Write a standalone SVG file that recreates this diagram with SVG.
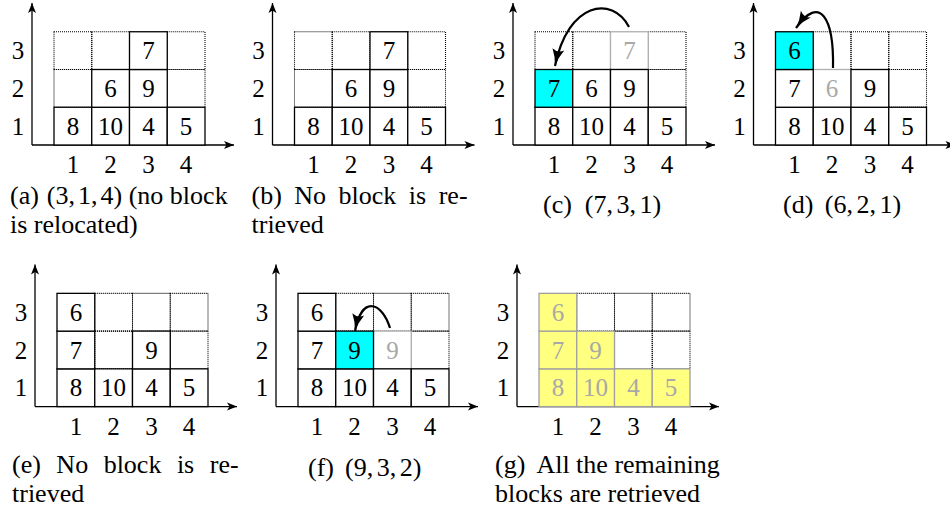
<svg xmlns="http://www.w3.org/2000/svg" width="950" height="517" viewBox="0 0 950 517" font-family="'Liberation Serif','DejaVu Serif','Times New Roman',serif">
<defs>
<style>
text{font-family:'Liberation Serif','DejaVu Serif','Times New Roman',serif;font-size:25px}
.e{fill:none;stroke:#000;stroke-width:1.1;stroke-dasharray:1 1}
.b{fill:#fff;stroke:#000;stroke-width:1.3}
.gh{fill:#fff;stroke:#b0b0b0;stroke-width:1.3}
.cy{fill:#00ffff;stroke:#000;stroke-width:1.3}
.ye{fill:#ffff80;stroke:#a0a0a0;stroke-width:1.3}
.t{text-anchor:middle;fill:#000}
.tg{text-anchor:middle;fill:#a8a8a8}
.lab{text-anchor:middle;fill:#000}
.cap{fill:#000;font-size:26px}
.ax{fill:none;stroke:#000;stroke-width:1.3;marker-end:url(#axh)}
.arc{fill:none;stroke:#000;stroke-width:2.2;marker-end:url(#arh)}
</style>
<marker id="axh" markerUnits="userSpaceOnUse" markerWidth="12" markerHeight="10" refX="10" refY="4" orient="auto" overflow="visible">
<path d="M0,0 L10,4 L0,8 L2.5,4 Z" fill="#000"/>
</marker>
<marker id="arh" markerUnits="userSpaceOnUse" markerWidth="20" markerHeight="14" refX="17" refY="6" orient="auto" overflow="visible">
<path d="M0,0 Q8,4.5 17,6 Q8,7.5 0,12 Q4,6 0,0 Z" fill="#000"/>
</marker>
<g id="axes">
<path class="ax" d="M0,0 V-142"/>
<path class="ax" d="M0,0 H202"/>
<text class="lab" x="-14" y="-10.4">1</text>
<text class="lab" x="-14" y="-48.1">2</text>
<text class="lab" x="-14" y="-85.9">3</text>
<text class="lab" x="40.9" y="28">1</text>
<text class="lab" x="78.6" y="28">2</text>
<text class="lab" x="116.4" y="28">3</text>
<text class="lab" x="154.1" y="28">4</text>
</g>
</defs>

<!-- Panel (a) -->
<g id="panel-a" transform="translate(32,145)">
<use href="#axes"/>
<g id="a-empty">
<rect class="e" x="22" y="-75.5" width="37.75" height="37.75"/>
<rect class="e" x="135.25" y="-75.5" width="37.75" height="37.75"/>
<rect class="e" x="22" y="-113.25" width="37.75" height="37.75"/>
<rect class="e" x="59.75" y="-113.25" width="37.75" height="37.75"/>
<rect class="e" x="135.25" y="-113.25" width="37.75" height="37.75"/>
</g>
<g id="a-8"><rect class="b" x="22" y="-37.75" width="37.75" height="37.75"/><text class="t" x="40.9" y="-10.4">8</text></g>
<g id="a-10"><rect class="b" x="59.75" y="-37.75" width="37.75" height="37.75"/><text class="t" x="78.6" y="-10.4">10</text></g>
<g id="a-4"><rect class="b" x="97.5" y="-37.75" width="37.75" height="37.75"/><text class="t" x="116.4" y="-10.4">4</text></g>
<g id="a-5"><rect class="b" x="135.25" y="-37.75" width="37.75" height="37.75"/><text class="t" x="154.1" y="-10.4">5</text></g>
<g id="a-6"><rect class="b" x="59.75" y="-75.5" width="37.75" height="37.75"/><text class="t" x="78.6" y="-48.1">6</text></g>
<g id="a-9"><rect class="b" x="97.5" y="-75.5" width="37.75" height="37.75"/><text class="t" x="116.4" y="-48.1">9</text></g>
<g id="a-7"><rect class="b" x="97.5" y="-113.25" width="37.75" height="37.75"/><text class="t" x="116.4" y="-85.9">7</text></g>
<text class="cap" x="-22" y="59">(a) <tspan dx="1.5">(3,</tspan><tspan dx="3">1,</tspan><tspan dx="3">4)</tspan> (no block</text>
<text class="cap" x="-22" y="88">is relocated)</text>
</g>

<!-- Panel (b) -->
<g id="panel-b" transform="translate(272.5,145)">
<use href="#axes"/>
<g id="b-empty">
<rect class="e" x="22" y="-75.5" width="37.75" height="37.75"/>
<rect class="e" x="135.25" y="-75.5" width="37.75" height="37.75"/>
<rect class="e" x="22" y="-113.25" width="37.75" height="37.75"/>
<rect class="e" x="59.75" y="-113.25" width="37.75" height="37.75"/>
<rect class="e" x="135.25" y="-113.25" width="37.75" height="37.75"/>
</g>
<g id="b-8"><rect class="b" x="22" y="-37.75" width="37.75" height="37.75"/><text class="t" x="40.9" y="-10.4">8</text></g>
<g id="b-10"><rect class="b" x="59.75" y="-37.75" width="37.75" height="37.75"/><text class="t" x="78.6" y="-10.4">10</text></g>
<g id="b-4"><rect class="b" x="97.5" y="-37.75" width="37.75" height="37.75"/><text class="t" x="116.4" y="-10.4">4</text></g>
<g id="b-5"><rect class="b" x="135.25" y="-37.75" width="37.75" height="37.75"/><text class="t" x="154.1" y="-10.4">5</text></g>
<g id="b-6"><rect class="b" x="59.75" y="-75.5" width="37.75" height="37.75"/><text class="t" x="78.6" y="-48.1">6</text></g>
<g id="b-9"><rect class="b" x="97.5" y="-75.5" width="37.75" height="37.75"/><text class="t" x="116.4" y="-48.1">9</text></g>
<g id="b-7"><rect class="b" x="97.5" y="-113.25" width="37.75" height="37.75"/><text class="t" x="116.4" y="-85.9">7</text></g>
<text class="cap" x="-21" y="59" word-spacing="6">(b) No block is re-</text>
<text class="cap" x="-21" y="88">trieved</text>
</g>

<!-- Panel (c) -->
<g id="panel-c" transform="translate(513,145)">
<use href="#axes"/>
<g id="c-empty">
<rect class="e" x="135.25" y="-75.5" width="37.75" height="37.75"/>
<rect class="e" x="22" y="-113.25" width="37.75" height="37.75"/>
<rect class="e" x="59.75" y="-113.25" width="37.75" height="37.75"/>
<rect class="e" x="135.25" y="-113.25" width="37.75" height="37.75"/>
</g>
<g id="c-7old"><rect class="gh" x="97.5" y="-113.25" width="37.75" height="37.75"/><text class="tg" x="116.4" y="-85.9">7</text></g>
<g id="c-8"><rect class="b" x="22" y="-37.75" width="37.75" height="37.75"/><text class="t" x="40.9" y="-10.4">8</text></g>
<g id="c-10"><rect class="b" x="59.75" y="-37.75" width="37.75" height="37.75"/><text class="t" x="78.6" y="-10.4">10</text></g>
<g id="c-4"><rect class="b" x="97.5" y="-37.75" width="37.75" height="37.75"/><text class="t" x="116.4" y="-10.4">4</text></g>
<g id="c-5"><rect class="b" x="135.25" y="-37.75" width="37.75" height="37.75"/><text class="t" x="154.1" y="-10.4">5</text></g>
<g id="c-7"><rect class="cy" x="22" y="-75.5" width="37.75" height="37.75"/><text class="t" x="40.9" y="-48.1">7</text></g>
<g id="c-6"><rect class="b" x="59.75" y="-75.5" width="37.75" height="37.75"/><text class="t" x="78.6" y="-48.1">6</text></g>
<g id="c-9"><rect class="b" x="97.5" y="-75.5" width="37.75" height="37.75"/><text class="t" x="116.4" y="-48.1">9</text></g>
<text class="cap" x="30" y="68">(c) <tspan dx="6.5">(7,</tspan><tspan dx="3.5">3,</tspan><tspan dx="3.5">1)</tspan></text>
</g>

<!-- Panel (d) -->
<g id="panel-d" transform="translate(753.5,145)">
<use href="#axes"/>
<g id="d-empty">
<rect class="e" x="135.25" y="-75.5" width="37.75" height="37.75"/>
<rect class="e" x="59.75" y="-113.25" width="37.75" height="37.75"/>
<rect class="e" x="97.5" y="-113.25" width="37.75" height="37.75"/>
<rect class="e" x="135.25" y="-113.25" width="37.75" height="37.75"/>
</g>
<g id="d-6old"><rect class="gh" x="59.75" y="-75.5" width="37.75" height="37.75"/><text class="tg" x="78.6" y="-48.1">6</text></g>
<g id="d-8"><rect class="b" x="22" y="-37.75" width="37.75" height="37.75"/><text class="t" x="40.9" y="-10.4">8</text></g>
<g id="d-10"><rect class="b" x="59.75" y="-37.75" width="37.75" height="37.75"/><text class="t" x="78.6" y="-10.4">10</text></g>
<g id="d-4"><rect class="b" x="97.5" y="-37.75" width="37.75" height="37.75"/><text class="t" x="116.4" y="-10.4">4</text></g>
<g id="d-5"><rect class="b" x="135.25" y="-37.75" width="37.75" height="37.75"/><text class="t" x="154.1" y="-10.4">5</text></g>
<g id="d-7"><rect class="b" x="22" y="-75.5" width="37.75" height="37.75"/><text class="t" x="40.9" y="-48.1">7</text></g>
<g id="d-9"><rect class="b" x="97.5" y="-75.5" width="37.75" height="37.75"/><text class="t" x="116.4" y="-48.1">9</text></g>
<g id="d-6"><rect class="cy" x="22" y="-113.25" width="37.75" height="37.75"/><text class="t" x="40.9" y="-85.9">6</text></g>
<text class="cap" x="29.5" y="68">(d) <tspan dx="5">(6,</tspan><tspan dx="3.5">2,</tspan><tspan dx="3.5">1)</tspan></text>
</g>

<!-- Panel (e) -->
<g id="panel-e" transform="translate(35,406.6)">
<use href="#axes"/>
<g id="e-empty">
<rect class="e" x="59.75" y="-75.5" width="37.75" height="37.75"/>
<rect class="e" x="135.25" y="-75.5" width="37.75" height="37.75"/>
<rect class="e" x="59.75" y="-113.25" width="37.75" height="37.75"/>
<rect class="e" x="97.5" y="-113.25" width="37.75" height="37.75"/>
<rect class="e" x="135.25" y="-113.25" width="37.75" height="37.75"/>
</g>
<g id="e-8"><rect class="b" x="22" y="-37.75" width="37.75" height="37.75"/><text class="t" x="40.9" y="-10.4">8</text></g>
<g id="e-10"><rect class="b" x="59.75" y="-37.75" width="37.75" height="37.75"/><text class="t" x="78.6" y="-10.4">10</text></g>
<g id="e-4"><rect class="b" x="97.5" y="-37.75" width="37.75" height="37.75"/><text class="t" x="116.4" y="-10.4">4</text></g>
<g id="e-5"><rect class="b" x="135.25" y="-37.75" width="37.75" height="37.75"/><text class="t" x="154.1" y="-10.4">5</text></g>
<g id="e-7"><rect class="b" x="22" y="-75.5" width="37.75" height="37.75"/><text class="t" x="40.9" y="-48.1">7</text></g>
<g id="e-9"><rect class="b" x="97.5" y="-75.5" width="37.75" height="37.75"/><text class="t" x="116.4" y="-48.1">9</text></g>
<g id="e-6"><rect class="b" x="22" y="-113.25" width="37.75" height="37.75"/><text class="t" x="40.9" y="-85.9">6</text></g>
<text class="cap" x="-23" y="66" word-spacing="9">(e) No block is re-</text>
<text class="cap" x="-23" y="95">trieved</text>
</g>

<!-- Panel (f) -->
<g id="panel-f" transform="translate(276,406.6)">
<use href="#axes"/>
<g id="f-empty">
<rect class="e" x="135.25" y="-75.5" width="37.75" height="37.75"/>
<rect class="e" x="59.75" y="-113.25" width="37.75" height="37.75"/>
<rect class="e" x="97.5" y="-113.25" width="37.75" height="37.75"/>
<rect class="e" x="135.25" y="-113.25" width="37.75" height="37.75"/>
</g>
<g id="f-9old"><rect class="gh" x="97.5" y="-75.5" width="37.75" height="37.75"/><text class="tg" x="116.4" y="-48.1">9</text></g>
<g id="f-8"><rect class="b" x="22" y="-37.75" width="37.75" height="37.75"/><text class="t" x="40.9" y="-10.4">8</text></g>
<g id="f-10"><rect class="b" x="59.75" y="-37.75" width="37.75" height="37.75"/><text class="t" x="78.6" y="-10.4">10</text></g>
<g id="f-4"><rect class="b" x="97.5" y="-37.75" width="37.75" height="37.75"/><text class="t" x="116.4" y="-10.4">4</text></g>
<g id="f-5"><rect class="b" x="135.25" y="-37.75" width="37.75" height="37.75"/><text class="t" x="154.1" y="-10.4">5</text></g>
<g id="f-7"><rect class="b" x="22" y="-75.5" width="37.75" height="37.75"/><text class="t" x="40.9" y="-48.1">7</text></g>
<g id="f-9"><rect class="cy" x="59.75" y="-75.5" width="37.75" height="37.75"/><text class="t" x="78.6" y="-48.1">9</text></g>
<g id="f-6"><rect class="b" x="22" y="-113.25" width="37.75" height="37.75"/><text class="t" x="40.9" y="-85.9">6</text></g>
<text class="cap" x="32" y="69">(f) <tspan dx="4.5">(9,</tspan><tspan dx="3.5">3,</tspan><tspan dx="3.5">2)</tspan></text>
</g>

<!-- Panel (g) -->
<g id="panel-g" transform="translate(517,406.6)">
<use href="#axes"/>
<g id="g-empty">
<rect class="e" x="97.5" y="-75.5" width="37.75" height="37.75"/>
<rect class="e" x="135.25" y="-75.5" width="37.75" height="37.75"/>
<rect class="e" x="59.75" y="-113.25" width="37.75" height="37.75"/>
<rect class="e" x="97.5" y="-113.25" width="37.75" height="37.75"/>
<rect class="e" x="135.25" y="-113.25" width="37.75" height="37.75"/>
</g>
<g id="g-8"><rect class="ye" x="22" y="-37.75" width="37.75" height="37.75"/><text class="tg" x="40.9" y="-10.4">8</text></g>
<g id="g-10"><rect class="ye" x="59.75" y="-37.75" width="37.75" height="37.75"/><text class="tg" x="78.6" y="-10.4">10</text></g>
<g id="g-4"><rect class="ye" x="97.5" y="-37.75" width="37.75" height="37.75"/><text class="tg" x="116.4" y="-10.4">4</text></g>
<g id="g-5"><rect class="ye" x="135.25" y="-37.75" width="37.75" height="37.75"/><text class="tg" x="154.1" y="-10.4">5</text></g>
<g id="g-7"><rect class="ye" x="22" y="-75.5" width="37.75" height="37.75"/><text class="tg" x="40.9" y="-48.1">7</text></g>
<g id="g-9"><rect class="ye" x="59.75" y="-75.5" width="37.75" height="37.75"/><text class="tg" x="78.6" y="-48.1">9</text></g>
<g id="g-6"><rect class="ye" x="22" y="-113.25" width="37.75" height="37.75"/><text class="tg" x="40.9" y="-85.9">6</text></g>
<text class="cap" x="-22" y="66">(g) <tspan dx="6">All the remaining</tspan></text>
<text class="cap" x="-22" y="95">blocks are retrieved</text>
</g>

<!-- Connectors -->
<g id="connectors">
<path class="arc" d="M629,27 C612,-5 568,2 555,66"/>
<path class="arc" d="M833,68 C834,18 820,-6 796,28"/>
<path class="arc" d="M390,328 C382,302 362,295 355,331"/>
</g>
</svg>
